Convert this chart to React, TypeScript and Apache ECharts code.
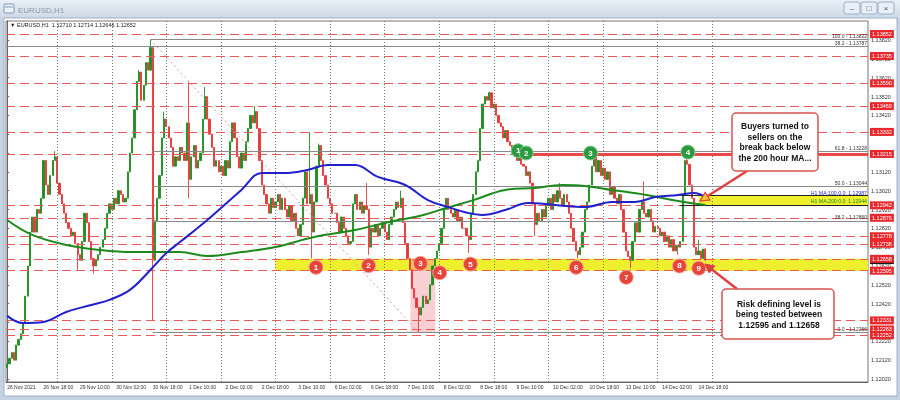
import React, { useEffect, useRef } from "react";
import * as echarts from "echarts";

// ---------- DATA ----------
const symbolTitle = "EURUSD,H1";
const lastQuote = ["1.12710", "1.12714", "1.12646", "1.12652"];
const firstOpen = 1.1208;

// hourly closes, one array per trading day
const nov26 = [1.1210, 1.1213, 1.1216, 1.1212, 1.1220, 1.1223, 1.1226, 1.1232, 1.1246, 1.1262, 1.1280, 1.1288, 1.1280, 1.1292, 1.1290, 1.1298, 1.1318, 1.1305, 1.1300, 1.1310, 1.1318, 1.1320];
const nov29 = [1.1306, 1.1300, 1.1295, 1.1290, 1.1285, 1.1282, 1.1278, 1.1280, 1.1274, 1.1268, 1.1265, 1.1275, 1.1290, 1.1285, 1.1275, 1.1266, 1.1262, 1.1265, 1.1268, 1.1272, 1.1276, 1.1282, 1.1290, 1.1295];
const nov30 = [1.1292, 1.1298, 1.1295, 1.1302, 1.1300, 1.1296, 1.1298, 1.1312, 1.1322, 1.1330, 1.1345, 1.1360, 1.1365, 1.1350, 1.1358, 1.1370, 1.1366, 1.1378, 1.1265, 1.1286, 1.1298, 1.1310, 1.1330, 1.1340];
const dec1 = [1.1336, 1.1330, 1.1325, 1.1315, 1.1320, 1.1318, 1.1325, 1.1322, 1.1318, 1.1338, 1.1308, 1.1320, 1.1326, 1.1314, 1.1318, 1.1322, 1.1340, 1.1352, 1.1340, 1.1332, 1.1325, 1.1315, 1.1318, 1.1312];
const dec2 = [1.1315, 1.1310, 1.1318, 1.1314, 1.1328, 1.1338, 1.1330, 1.1320, 1.1314, 1.1322, 1.1318, 1.1328, 1.1335, 1.1342, 1.1338, 1.1344, 1.1335, 1.1318, 1.1305, 1.1300, 1.1295, 1.1290, 1.1298, 1.1293];
const dec3 = [1.1296, 1.1300, 1.1292, 1.1298, 1.1292, 1.1288, 1.1294, 1.1286, 1.1290, 1.1282, 1.1278, 1.1284, 1.1298, 1.1312, 1.1295, 1.1300, 1.1280, 1.1296, 1.1315, 1.1326, 1.1318, 1.1310, 1.1305, 1.1298];
const dec6 = [1.1295, 1.1290, 1.1290, 1.1285, 1.1280, 1.1288, 1.1282, 1.1278, 1.1274, 1.1275, 1.1295, 1.1300, 1.1292, 1.1296, 1.1290, 1.1294, 1.1292, 1.1272, 1.1282, 1.1280, 1.1284, 1.1278, 1.1282, 1.1285];
const dec7 = [1.1280, 1.1276, 1.1284, 1.1288, 1.1292, 1.1296, 1.1293, 1.1298, 1.1285, 1.1274, 1.1266, 1.1260, 1.1250, 1.1245, 1.1240, 1.1236, 1.1240, 1.1246, 1.1242, 1.1244, 1.1252, 1.1262, 1.1266, 1.1270];
const dec8 = [1.1274, 1.1282, 1.1292, 1.1298, 1.1292, 1.1290, 1.1288, 1.1292, 1.1286, 1.1288, 1.1282, 1.1282, 1.1278, 1.1276, 1.1290, 1.1300, 1.1312, 1.1318, 1.1335, 1.1348, 1.1352, 1.1350, 1.1354, 1.1346];
const dec9 = [1.1348, 1.1342, 1.1338, 1.1336, 1.1330, 1.1334, 1.1328, 1.1326, 1.1322, 1.1324, 1.1318, 1.1320, 1.1316, 1.1315, 1.1310, 1.1312, 1.1306, 1.1295, 1.1284, 1.1290, 1.1286, 1.1292, 1.1288, 1.1294];
const dec10 = [1.1298, 1.1292, 1.1300, 1.1296, 1.1302, 1.1298, 1.1294, 1.1300, 1.1296, 1.1290, 1.1282, 1.1275, 1.1270, 1.1268, 1.1272, 1.1280, 1.1292, 1.1296, 1.1305, 1.1315, 1.1320, 1.1312, 1.1318, 1.1310];
const dec13 = [1.1314, 1.1308, 1.1312, 1.1300, 1.1304, 1.1298, 1.1295, 1.1300, 1.1292, 1.1280, 1.1270, 1.1267, 1.1265, 1.1275, 1.1285, 1.1280, 1.1292, 1.1296, 1.1290, 1.1288, 1.1292, 1.1286, 1.1280, 1.1283];
const dec14 = [1.1282, 1.1278, 1.1280, 1.1275, 1.1278, 1.1272, 1.1276, 1.1270, 1.1273, 1.1272, 1.1275, 1.1300, 1.1318, 1.1316, 1.1305, 1.1298, 1.1272, 1.1268, 1.1270, 1.1266, 1.1271, 1.12652];
const tradingDays = [nov26, nov29, nov30, dec1, dec2, dec3, dec6, dec7, dec8, dec9, dec10, dec13, dec14];

// notable wicks: [bar, high, low]
const wicks: [number, number | null, number | null][] = [
  [21, 1.1323, null], [31, null, 1.1260], [38, null, 1.1258], [58, 1.1366, null], [63, 1.13822, null],
  [64, null, 1.12333], [69, 1.1344, null], [80, 1.1360, 1.1298], [87, 1.1357, null], [109, 1.13469, null],
  [133, 1.1333, null], [134, null, 1.1266], [137, 1.1327, null], [158, 1.1306, null], [159, null, 1.1268],
  [173, 1.1302, null], [181, null, 1.12266], [203, null, 1.1269], [212, 1.13544, null], [232, null, 1.1278],
  [243, 1.1306, null], [251, null, 1.1266], [258, 1.13228, null], [274, null, 1.1261], [280, 1.1307, null],
  [295, null, 1.1268], [299, 1.1322, null], [304, 1.1276, null], [307, 1.12714, 1.12646],
];

const timeLabels = ["26 Nov 2021", "26 Nov 18:00", "29 Nov 10:00", "30 Nov 02:00", "30 Nov 18:00", "1 Dec 10:00", "2 Dec 02:00", "2 Dec 18:00", "3 Dec 10:00", "6 Dec 02:00", "6 Dec 18:00", "7 Dec 10:00", "8 Dec 02:00", "8 Dec 18:00", "9 Dec 10:00", "10 Dec 02:00", "10 Dec 18:00", "13 Dec 10:00", "14 Dec 02:00", "14 Dec 18:00"];
const labelStep = 16;
const totalSlots = 379;
const daySeparators = [22, 46, 70, 94, 118, 142, 166, 190, 214, 238, 262, 286, 310];

const axisPrices = [1.1202, 1.1212, 1.1222, 1.1232, 1.1242, 1.1252, 1.1262, 1.1272, 1.1282, 1.1292, 1.1302, 1.1312, 1.1322, 1.1332, 1.1342, 1.1352, 1.1362, 1.1372, 1.1382];
const priceMin = 1.12004;
const priceMax = 1.13921;

const levelLines = [1.13852, 1.13735, 1.1359, 1.13469, 1.13332, 1.13215, 1.12942, 1.12876, 1.12778, 1.12738, 1.12658, 1.12595, 1.12331, 1.12283, 1.12252];
const bidPrice = 1.12652;

const fibStartBar = 64;
const fibHighBar = 63;
const fibLowBar = 181;
const fibLevels: [string, number][] = [["100.0", 1.13822], ["61.8", 1.13228], ["50.0", 1.13044], ["38.2", 1.1286], ["0.0", 1.12266]];
const extraFib: [string, number] = ["38.2", 1.13787];

const ma100 = [[0, 1.12355], [7, 1.12317], [16, 1.12323], [26, 1.12376], [37, 1.12413], [45, 1.1244], [54, 1.12493], [63, 1.12599], [70, 1.12689], [76, 1.12747], [88, 1.12864], [103, 1.13024], [112, 1.13114], [122, 1.13114], [132, 1.1313], [141, 1.13156], [153, 1.13156], [163, 1.13093], [175, 1.1305], [185, 1.1297], [194, 1.12933], [201, 1.12907], [209, 1.12891], [219, 1.12917], [229, 1.12955], [241, 1.12944], [254, 1.12933], [266, 1.1296], [276, 1.1296], [285, 1.12986], [295, 1.12997], [302, 1.13008], [307, 1.12987]];
const ma200 = [[0, 1.12864], [11, 1.12785], [26, 1.12732], [41, 1.12705], [55, 1.12694], [76, 1.12694], [88, 1.12673], [103, 1.12694], [118, 1.12721], [135, 1.12774], [153, 1.12811], [168, 1.12854], [183, 1.12891], [193, 1.12928], [205, 1.1297], [219, 1.13024], [232, 1.13034], [244, 1.1305], [254, 1.13045], [266, 1.13024], [281, 1.12997], [295, 1.12965], [307, 1.12944]];
const ma100Label = "H1 MA:100:0.0: 1.12987";
const ma200Label = "H1 MA:200:0.0: 1.12944";

const redMarks = [[135.8, 1.12613, "1"], [158.9, 1.12622, "2"], [181.7, 1.12634, "3"], [190.2, 1.12584, "4"], [203.7, 1.1263, "5"], [250.2, 1.12613, "6"], [272.2, 1.1256, "7"], [295.6, 1.1262, "8"], [304.1, 1.12608, "9"]];
const greenMarks = [[224.7, 1.13232, "1"], [228.2, 1.1322, "2"], [256.5, 1.1322, "3"], [299.3, 1.13225, "4"]];

const supportZone = { fromBar: 117.9, low: 1.12595, high: 1.12658 };
const maZone = { fromBar: 304, low: 1.12942, high: 1.12997, edgeFromBar: 296 };
const lowBox = { fromBar: 177.3, toBar: 188.3, top: 1.12652, bottom: 1.12266 };
const resistance = { fromBar: 223.5, price: 1.13215 };

const note1 = ["Buyers turned to", "sellers on the", "break back below", "the 200 hour MA..."];
const note2 = ["Risk defining level is", "being tested between", "1.12595 and 1.12658"];

// ---------- build ----------
const FONT = "Liberation Sans, Arial, sans-serif";
const closes = tradingDays.flat();
const wickMap = new Map(wicks.map((w) => [w[0], w]));
const candles = closes.map((c, i) => {
  const o = i === 0 ? firstOpen : closes[i - 1];
  let hi = Math.max(o, c);
  let lo = Math.min(o, c);
  const w = wickMap.get(i);
  if (w) {
    if (w[1] != null) hi = Math.max(hi, w[1]);
    if (w[2] != null) lo = Math.min(lo, w[2]);
  }
  return [o, c, lo, hi];
});
const categories = Array.from({ length: totalSlots }, (_, i) =>
  i % labelStep === 0 && i / labelStep < timeLabels.length ? timeLabels[i / labelStep] : ""
);
const START = -0.5;
const END = totalSlots - 0.5;
const HIDDEN = "rgba(0,0,0,0)";

function arrowHead(tip: [number, number], from: [number, number], len: number, half: number) {
  const dx = tip[0] - from[0];
  const dy = tip[1] - from[1];
  const L = Math.hypot(dx, dy);
  const ux = dx / L, uy = dy / L;
  const bx = tip[0] - ux * len, by = tip[1] - uy * len;
  return [tip, [bx - uy * half, by + ux * half], [bx + uy * half, by - ux * half]];
}

function hLine(from: number, to: number, p: number, lineStyle: any, label: any) {
  return [{ coord: [from, p], lineStyle, label }, { coord: [to, p] }];
}

function buildOption(): any {
  const redLine = { color: "#e85a5a", type: [9, 5], width: 1 };
  const priceTag = (p: number, bg: string) => ({
    show: true, position: "end", distance: 2, formatter: p.toFixed(5),
    backgroundColor: bg, color: "#fff", fontSize: 5.5, fontFamily: FONT, padding: [1, 2, 1, 2],
  });
  const levelData: any[] = [];
  levelLines.forEach((p, i) => {
    if (i === 10) levelData.push(hLine(START, END, bidPrice, { color: HIDDEN, width: 0 }, priceTag(bidPrice, "#111")));
    levelData.push(hLine(START, END, p, redLine, priceTag(p, "#e8282c")));
  });

  const fibText = (t: string, color = "#333", size = 5) => ({
    show: true, position: "insideEndTop", distance: 1, formatter: t, fontSize: size, color, fontFamily: FONT,
  });
  const grey = { color: "#8a8a8a", width: 1, type: "solid" };
  const fibData: any[] = fibLevels.map(([lvl, p]) =>
    hLine(lvl === "100.0" ? fibHighBar : fibStartBar, END, p, grey, fibText(`${lvl} - ${p.toFixed(5)}`))
  );
  fibData.push(hLine(START, END, extraFib[1], grey, fibText(`${extraFib[0]} - ${extraFib[1].toFixed(5)}`)));
  fibData.push([
    { coord: [fibHighBar, fibLevels[0][1]], lineStyle: { color: "#e49a9a", width: 1, type: [2, 3] }, label: { show: false } },
    { coord: [fibLowBar, fibLevels[4][1]] },
  ]);
  fibData.push(hLine(resistance.fromBar, END, resistance.price, { color: "#e84848", width: 3, type: "solid" }, { show: false }));
  [maZone.high, maZone.low].forEach((p) =>
    fibData.push(hLine(maZone.edgeFromBar, END, p, { color: "#222", width: 1.2, type: "solid" }, { show: false }))
  );
  fibData.push(hLine(fibStartBar, END, ma100[ma100.length - 1][1], { color: HIDDEN, width: 0 }, fibText(ma100Label, "#2b2bd6", 5.2)));
  fibData.push(hLine(fibStartBar, END, ma200[ma200.length - 1][1], { color: HIDDEN, width: 0 }, fibText(ma200Label, "#1f8a1f", 5.2)));

  const circleLabel = { show: true, position: "inside", formatter: (p: any) => p.data[2], color: "#fff", fontSize: 8, fontWeight: "bold", fontFamily: FONT };

  const a1Tip: [number, number] = [700, 201];
  const a1From: [number, number] = [747, 171];
  const a2Tip: [number, number] = [705, 264];
  const a2From: [number, number] = [737, 289];

  return {
    animation: false,
    backgroundColor: "transparent",
    grid: { left: 6, top: 21, width: 862, height: 361, show: true, borderColor: "#777", borderWidth: 1, backgroundColor: "transparent" },
    xAxis: [
      {
        type: "category", data: categories, boundaryGap: true, gridIndex: 0,
        axisLine: { lineStyle: { color: "#666" } },
        axisTick: { interval: labelStep - 1, alignWithLabel: true, length: 3, lineStyle: { color: "#666" } },
        axisLabel: { interval: labelStep - 1, align: "left", fontSize: 5, color: "#333", margin: 2, fontFamily: FONT, hideOverlap: false },
        splitLine: { show: false },
      },
      { type: "value", min: START, max: END, show: false, gridIndex: 0 },
    ],
    yAxis: {
      type: "value", position: "right", min: priceMin, max: priceMax, scale: true,
      splitLine: { show: false },
      axisLine: { show: true, lineStyle: { color: "#666" } },
      axisTick: { show: true, length: 2, customValues: axisPrices, lineStyle: { color: "#666" } },
      axisLabel: { customValues: axisPrices, formatter: (v: number) => v.toFixed(5), fontSize: 5.5, color: "#333", margin: 3, fontFamily: FONT },
    },
    series: [
      {
        type: "line", xAxisIndex: 1, yAxisIndex: 0, data: [], z: 1, silent: true,
        markArea: {
          silent: true,
          data: [
            [{ coord: [supportZone.fromBar, supportZone.high], itemStyle: { color: "#eef02e" } }, { coord: [END, supportZone.low] }],
            [{ coord: [maZone.fromBar, maZone.high], itemStyle: { color: "#eef02e" } }, { coord: [END, maZone.low] }],
            [{ coord: [lowBox.fromBar, lowBox.top], itemStyle: { color: "rgba(238,140,150,0.42)" } }, { coord: [lowBox.toBar, lowBox.bottom] }],
          ],
        },
      },
      {
        type: "line", xAxisIndex: 1, yAxisIndex: 0, data: [], z: 2, silent: true,
        markLine: {
          silent: true, symbol: ["none", "none"], label: { show: false },
          lineStyle: { color: "#777", type: [1, 2], width: 1 },
          data: daySeparators.map((b) => ({ xAxis: b })),
        },
      },
      {
        type: "candlestick", xAxisIndex: 0, yAxisIndex: 0, data: candles, z: 3, barWidth: 1.7,
        itemStyle: { color: "#1f8f1f", color0: "#e6383a", borderColor: "#1f8f1f", borderColor0: "#e6383a", borderWidth: 0.9 },
      },
      {
        type: "line", xAxisIndex: 1, yAxisIndex: 0, data: [], z: 4, silent: true,
        markLine: { silent: true, symbol: ["none", "none"], data: levelData },
      },
      {
        type: "line", xAxisIndex: 1, yAxisIndex: 0, data: [], z: 4, silent: true,
        markLine: { silent: true, symbol: ["none", "none"], data: fibData },
      },
      { type: "line", xAxisIndex: 1, yAxisIndex: 0, data: ma200, smooth: 0.4, symbol: "none", z: 5, lineStyle: { color: "#1c8a1c", width: 2 } },
      { type: "line", xAxisIndex: 1, yAxisIndex: 0, data: ma100, smooth: 0.4, symbol: "none", z: 5, lineStyle: { color: "#2020cc", width: 2 } },
      {
        type: "scatter", xAxisIndex: 1, yAxisIndex: 0, data: redMarks, symbolSize: 14, z: 6,
        itemStyle: { color: "#e8453a", borderColor: "#f5a39a", borderWidth: 1, opacity: 1 }, label: circleLabel,
      },
      {
        type: "scatter", xAxisIndex: 1, yAxisIndex: 0, data: greenMarks, symbolSize: 14, z: 6,
        itemStyle: { color: "#2a9a3e", borderColor: "#8fd19b", borderWidth: 1, opacity: 1 }, label: circleLabel,
      },
    ],
    graphic: [
      { type: "rect", z: -100, shape: { x: 0, y: 0, width: 900, height: 400 }, style: { fill: "#c4d2e2" } },
      {
        type: "rect", z: -99, shape: { x: 0, y: 0, width: 900, height: 18 },
        style: { fill: new echarts.graphic.LinearGradient(0, 0, 0, 1, [{ offset: 0, color: "#eaf0f6" }, { offset: 1, color: "#cdd9e6" }]) },
      },
      { type: "rect", z: -98, shape: { x: 4, y: 18, width: 893, height: 378 }, style: { fill: "#ffffff", stroke: "#9fb1c6", lineWidth: 1 } },
      { type: "rect", z: -97, shape: { x: 4, y: 4, width: 10, height: 9, r: 1 }, style: { fill: "#eef3f8", stroke: "#7b98b8", lineWidth: 1 } },
      { type: "line", z: -97, shape: { x1: 5, y1: 7, x2: 13, y2: 7 }, style: { stroke: "#7b98b8", lineWidth: 1 } },
      { type: "text", z: -97, x: 18, y: 10, style: { text: symbolTitle, fill: "#8b96a3", fontSize: 8, fontFamily: FONT, textVerticalAlign: "middle", verticalAlign: "middle" } },
      ...[844, 861, 878].map((bx, k) => ({
        type: "group", z: -97, children: [
          { type: "rect", shape: { x: bx, y: 2, width: 16, height: 12, r: 2 }, style: { fill: "#e9eff6", stroke: "#9aaec4", lineWidth: 1 } },
          { type: "text", x: bx + 8, y: 8, style: { text: ["–", "□", "×"][k], fill: "#44556a", fontSize: 8, fontFamily: FONT, textAlign: "center", align: "center", textVerticalAlign: "middle", verticalAlign: "middle" } },
        ],
      })),
      {
        type: "text", z: 50, x: 10, y: 25,
        style: { text: `▼ ${symbolTitle}  ${lastQuote.join(" ")}`, fill: "#1a1a1a", fontSize: 5.5, fontFamily: FONT, textVerticalAlign: "middle", verticalAlign: "middle" },
      },
      // note 1
      { type: "line", z: 60, shape: { x1: a1From[0], y1: a1From[1], x2: a1Tip[0] + 5, y2: a1Tip[1] - 3.3 }, style: { stroke: "#e04040", lineWidth: 2.5 } },
      { type: "polygon", z: 61, shape: { points: arrowHead(a1Tip, a1From, 9, 4.5) }, style: { fill: "#f2c53a", stroke: "#e04040", lineWidth: 1.2 } },
      { type: "rect", z: 60, shape: { x: 732, y: 113, width: 86, height: 58, r: 4 }, style: { fill: "#fff", stroke: "#d9534f", lineWidth: 1.5 } },
      {
        type: "text", z: 61, x: 775, y: 142,
        style: { text: note1.join("\n"), fill: "#111", fontSize: 8.5, fontWeight: "bold", fontFamily: FONT, lineHeight: 10.5, textAlign: "center", align: "center", textVerticalAlign: "middle", verticalAlign: "middle" },
      },
      // note 2
      { type: "line", z: 60, shape: { x1: a2From[0], y1: a2From[1], x2: a2Tip[0] + 5, y2: a2Tip[1] + 4 }, style: { stroke: "#e04040", lineWidth: 2.5 } },
      { type: "polygon", z: 61, shape: { points: arrowHead(a2Tip, a2From, 9, 4.5) }, style: { fill: "#e04040", stroke: "#e04040", lineWidth: 1 } },
      { type: "rect", z: 60, shape: { x: 722, y: 289, width: 112, height: 50, r: 4 }, style: { fill: "#fff", stroke: "#d9534f", lineWidth: 1.5 } },
      {
        type: "text", z: 61, x: 779, y: 314,
        style: { text: note2.join("\n"), fill: "#111", fontSize: 8.5, fontWeight: "bold", fontFamily: FONT, lineHeight: 10.5, textAlign: "center", align: "center", textVerticalAlign: "middle", verticalAlign: "middle" },
      },
    ],
  };
}

export default function App() {
  const ref = useRef<HTMLDivElement>(null);
  useEffect(() => {
    if (!ref.current) return;
    const chart = echarts.init(ref.current, undefined, { renderer: "svg", width: 900, height: 400 });
    chart.setOption(buildOption());
    return () => chart.dispose();
  }, []);
  return <div ref={ref} style={{ position: "fixed", left: 0, top: 0, width: 900, height: 400 }} />;
}
